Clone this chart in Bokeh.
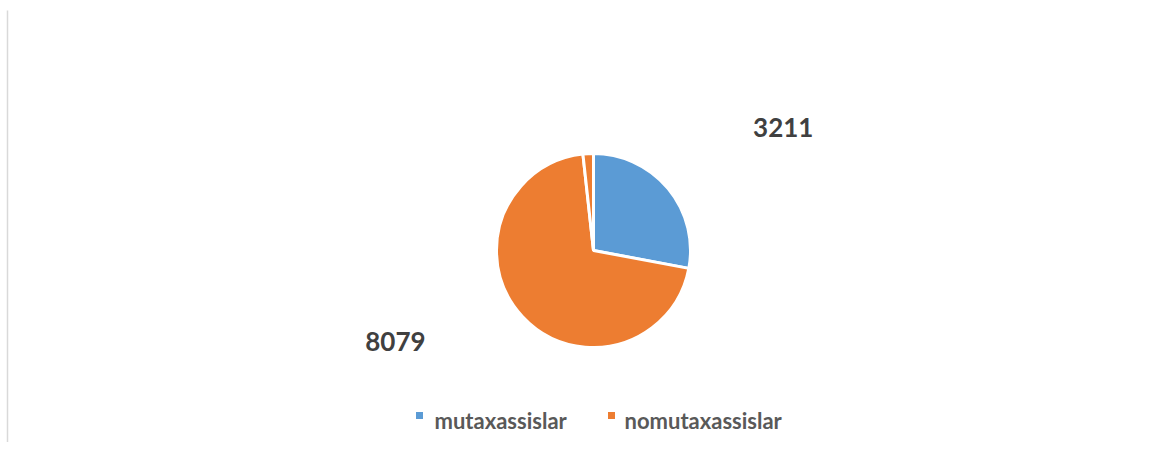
import math
from bokeh.plotting import figure
from bokeh.models import Range1d, ColumnDataSource
from bokeh.core.properties import value
from bokeh.embed import file_html
from bokeh.resources import INLINE

# ---- data ----
categories = ["mutaxassislar", "nomutaxassislar", ""]
values = [3211, 8079, 200]
colors = ["#5B9BD5", "#ED7D31", "#ED7D31"]
show_label = [True, True, False]
legend_categories = ["mutaxassislar", "nomutaxassislar"]
legend_colors = ["#5B9BD5", "#ED7D31"]

# ---- layout ----
W, H = 1160, 442
CX, CY, R = 593, H - 250, 97
LABEL_ANGLE = [57.1, 245.3, 0]     # degrees clockwise from 12 o'clock
LABEL_DIST = [226, 218, 0]
LEGEND_X = [419, 611]               # square centers
LEGEND_TEXT_X = [434, 624]
LEGEND_SQ_Y = H - 415
LEGEND_TXT_Y = H - 420

p = figure(width=W, height=H, output_backend="svg", toolbar_location=None,
           x_range=Range1d(0, W), y_range=Range1d(0, H), min_border=0)
p.axis.visible = False
p.grid.visible = False
p.outline_line_color = None
p.background_fill_color = "white"
p.border_fill_color = "white"

total = sum(values)
starts, ends = [], []
acc = 0.0
for v in values:
    a0 = math.pi / 2 - 2 * math.pi * acc / total
    acc += v
    a1 = math.pi / 2 - 2 * math.pi * acc / total
    starts.append(a0)
    ends.append(a1)

src = ColumnDataSource(dict(x=[CX] * len(values), y=[CY] * len(values),
                            start=starts, end=ends, color=colors))
p.wedge(x="x", y="y", radius=R, start_angle="start", end_angle="end",
        direction="clock", fill_color="color", line_color="white",
        line_width=3, source=src)

# data labels
lx, ly, lt = [], [], []
for i, v in enumerate(values):
    if not show_label[i]:
        continue
    a = math.radians(LABEL_ANGLE[i])
    lx.append(CX + LABEL_DIST[i] * math.sin(a))
    ly.append(CY + LABEL_DIST[i] * math.cos(a))
    lt.append(str(v))
p.text(x=lx, y=ly, text=lt, text_font=value("Lato"), text_font_style="bold",
       text_font_size="26px", text_color="#404040", text_align="center",
       text_baseline="middle")

# legend
p.scatter(x=LEGEND_X, y=[LEGEND_SQ_Y] * 2, marker="square", size=7,
          fill_color=legend_colors, line_color=None)
p.text(x=LEGEND_TEXT_X, y=[LEGEND_TXT_Y] * 2, text=legend_categories,
       text_font=value("Lato"), text_font_style="bold", text_font_size="22px",
       text_color="#595959", text_align="left", text_baseline="middle")

# left border of chart area
p.segment(x0=[7], y0=[0], x1=[7], y1=[H - 10], line_color="#D9D9D9",
          line_width=1.5)

open("out.html", "w").write(file_html(p, INLINE))
